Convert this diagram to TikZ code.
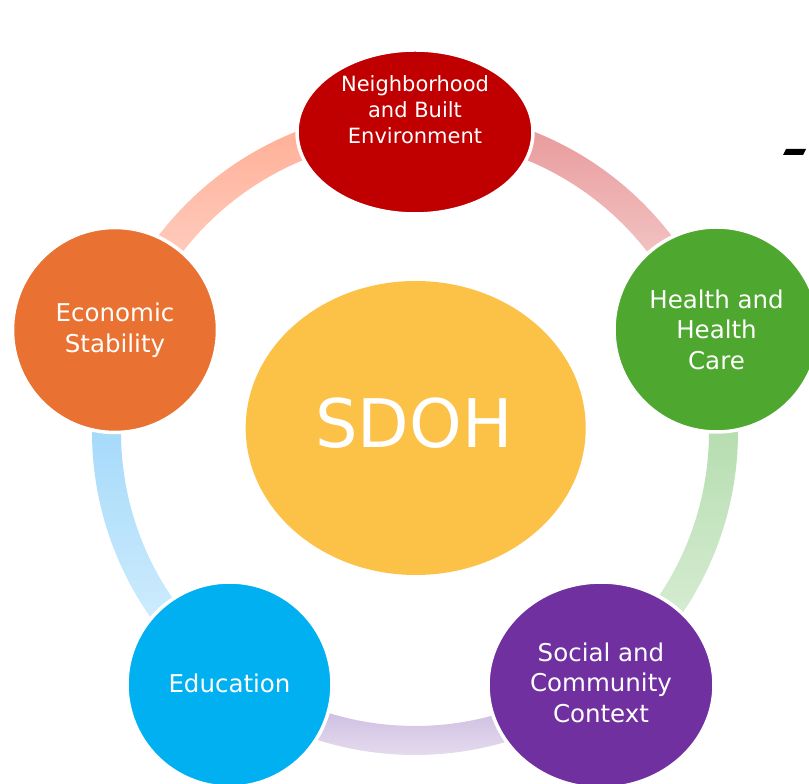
\documentclass[tikz,border=0pt]{standalone}
\usepackage{fontspec}
\setmainfont{DejaVu Sans}
\usetikzlibrary{shapes.geometric,calc}
\definecolor{cRed}{HTML}{C00000}
\definecolor{cGreen}{HTML}{4EA72E}
\definecolor{cPurple}{HTML}{7030A0}
\definecolor{cBlue}{HTML}{00B0F0}
\definecolor{cOrange}{HTML}{E97132}
\definecolor{cYellow}{HTML}{FCC147}
\definecolor{arcRedT}{HTML}{E8999A}
\definecolor{arcRedB}{HTML}{F3C5C5}
\definecolor{arcGrnT}{HTML}{B4DCAE}
\definecolor{arcGrnB}{HTML}{D7EDD3}
\definecolor{arcPurT}{HTML}{CDBDE0}
\definecolor{arcPurB}{HTML}{E7DFF1}
\definecolor{arcBluT}{HTML}{A3D9FA}
\definecolor{arcBluB}{HTML}{CFECFD}
\definecolor{arcOrgT}{HTML}{FFAE95}
\definecolor{arcOrgB}{HTML}{FFCDBF}
\begin{document}
\begin{tikzpicture}[x=1pt,y=1pt,
  bubble/.style={draw=white, line width=3.5pt, inner sep=0pt, text=white, align=center,
    font=\fontsize{24.5}{30.5}\selectfont},
  lbl/.style={text=white, align=center, inner sep=0pt},
  band/.style={line width=0pt}
]
\useasboundingbox (0,0) rectangle (809,784);
\fill[white] (0,0) rectangle (809,784);
\coordinate (C) at (415,352);
% ring bands
\begin{scope}[shift={(C)}]
\shade[band, top color=arcRedT, bottom color=arcRedB]
  (74:294) arc[start angle=74, end angle=34.8, radius=294]
  -- (34.8:323) arc[start angle=34.8, end angle=74, radius=323] -- cycle;
\shade[band, top color=arcGrnT, bottom color=arcGrnB]
  (2.8:294) arc[start angle=2.8, end angle=-37.7, radius=294]
  -- (-37.7:323) arc[start angle=-37.7, end angle=2.8, radius=323] -- cycle;
\shade[band, top color=arcPurT, bottom color=arcPurB]
  (-69.7:294) arc[start angle=-69.7, end angle=-110.3, radius=294]
  -- (-110.3:323) arc[start angle=-110.3, end angle=-69.7, radius=323] -- cycle;
\shade[band, top color=arcBluT, bottom color=arcBluB]
  (-142.3:294) arc[start angle=-142.3, end angle=-182.8, radius=294]
  -- (-182.8:323) arc[start angle=-182.8, end angle=-142.3, radius=323] -- cycle;
\shade[band, top color=arcOrgT, bottom color=arcOrgB]
  (145.2:294) arc[start angle=145.2, end angle=106, radius=294]
  -- (106:323) arc[start angle=106, end angle=145.2, radius=323] -- cycle;
\end{scope}
% outer bubbles
\node[bubble, ellipse, fill=cRed, minimum width=236pt, minimum height=164pt] (nb) at (415,652) {};
\node[lbl, font=\fontsize{21}{26}\selectfont] (nbt) at (415,674) {Neighborhood\\and Built\\Environment};
\node[bubble, circle, fill=cGreen, minimum size=205pt] (hc) at (716.5,454.5) {Health and\\Health\\Care};
\node[bubble, ellipse, fill=cPurple, minimum width=226pt, minimum height=206pt] (sc) at (601,99) {};
\node[lbl, font=\fontsize{24.5}{30.5}\selectfont] (sct) at (601,101.5) {Social and\\Community\\Context};
\node[bubble, circle, fill=cBlue, minimum size=205pt] (ed) at (229.5,99.5) {};
\node[lbl, font=\fontsize{24.5}{30.5}\selectfont] (edt) at (229.5,101) {Education};
\node[bubble, circle, fill=cOrange, minimum size=205pt] (es) at (115,454) {Economic\\Stability};
% centre
\node[ellipse, fill=cYellow, draw=none, minimum width=340pt, minimum height=294pt, inner sep=0pt] (sd) at (415.7,356) {};
\node[lbl, font=\fontsize{67}{70}\selectfont] (sdt) at (414,360.5) {SDOH};
% stray dash at top right
\fill[black] (783,629) -- (786,635) -- (806,635) -- (803,629) -- cycle;
\end{tikzpicture}
\end{document}
